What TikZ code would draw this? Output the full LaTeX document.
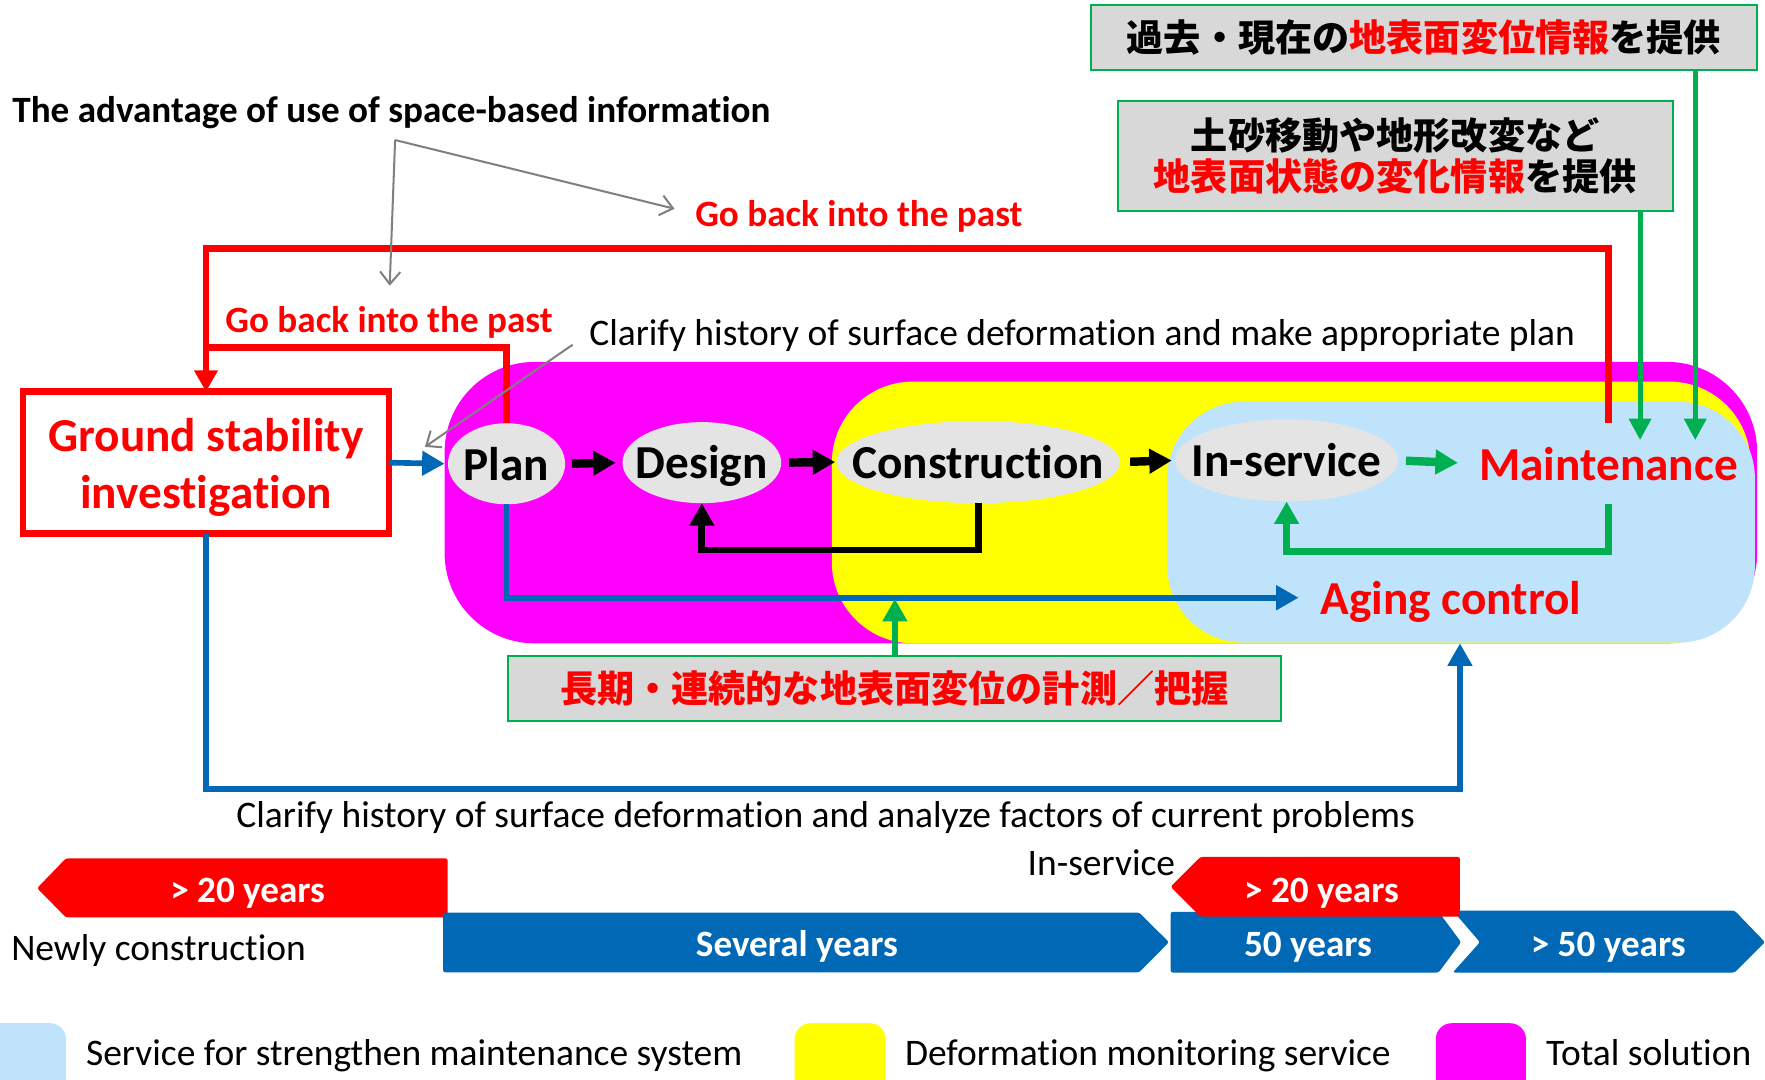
\documentclass[tikz,border=0pt]{standalone}
\usepackage{fontspec}
\setmainfont{Carlito}[Ligatures={NoCommon}]
\newfontfamily\jp{Noto Sans CJK JP}
\usetikzlibrary{arrows.meta,shapes.geometric,calc}
\definecolor{mag}{RGB}{255,0,255}
\definecolor{yel}{RGB}{255,255,0}
\definecolor{lblue}{RGB}{190,227,250}
\definecolor{ellg}{RGB}{228,228,228}
\definecolor{dblue}{RGB}{0,104,180}
\definecolor{grn}{RGB}{0,176,80}
\definecolor{boxg}{RGB}{216,216,216}
\definecolor{gry}{RGB}{128,128,128}
\definecolor{rd}{RGB}{255,0,0}
\begin{document}
\begin{tikzpicture}[x=1pt,y=-1pt,
  every node/.style={inner sep=0pt,outer sep=0pt},
  big/.style={font=\bfseries\fontsize{42}{50}\selectfont, text height=32pt, text depth=3pt},
  ell/.style={ellipse, fill=ellg},
  txt/.style={font=\fontsize{33.3}{38}\selectfont, text height=25pt, text depth=3pt},
  btxt/.style={font=\bfseries\fontsize{33}{38}\selectfont, text height=26pt, text depth=3pt},
  jpbox/.style={rectangle, fill=boxg, draw=grn, line width=1.8pt},
  redl/.style={draw=rd, line width=6pt},
  bll/.style={draw=dblue, line width=5pt},
  tipa/.style={-{Triangle[length=20pt,width=21pt]}},
  tipb/.style={-{Triangle[length=19pt,width=19pt]}},
  blkarr/.style={draw=black, line width=7.5pt, tipa},
  garr/.style={draw=grn, line width=4.5pt, tipb},
  gyl/.style={draw=gry, line width=1.8pt, -{Straight Barb[length=11pt,width=18pt]}},
  tl/.style={rounded corners=2pt}
]
\useasboundingbox (0,0) rectangle (1568,959);
\clip (0,0) rectangle (1568,959);

% regions
\node[fill=mag, rounded corners=80pt, minimum width=1166pt, minimum height=250pt] (magreg) at (978,446.5) {};
\node[fill=yel, rounded corners=72pt, minimum width=816pt, minimum height=232.5pt] (yelreg) at (1147,455.25) {};
\node[fill=lblue, rounded corners=68pt, minimum width=522pt, minimum height=214pt] (bluereg) at (1298,463.9) {};

% process nodes
\node[ell, minimum width=104pt, minimum height=72pt] (plan) at (450,412) {};
\node[big] (planlbl) at (plan) {Plan};
\node[ell, minimum width=141pt, minimum height=72pt] (design) at (623.5,411) {};
\node[big] (designlbl) at (design) {Design};
\node[ell, minimum width=252pt, minimum height=73pt] (constr) at (869,410.5) {};
\node[big] (constrlbl) at (constr) {Construction};
\node[ell, minimum width=198pt, minimum height=73pt] (inserv) at (1143,409) {};
\node[big] (inservlbl) at (inserv) {In-service};
\node[big, text=rd, minimum height=72pt] (maint) at (1429,412) {Maintenance};
\node[big, text=rd] (aging) at (1289,531) {Aging control};

\node[draw=rd, line width=6pt, fill=white, minimum width=325pt, minimum height=126pt] (gsi) at (183,411) {};
\node[align=center, text=rd, font=\bfseries\fontsize{42}{51}\selectfont] (gsilbl) at (183,415) {Ground stability\\investigation};

% japanese boxes
\node[jpbox, minimum width=592pt, minimum height=58pt, font=\jp\bfseries\fontsize{33}{38}\selectfont] (jp1) at (1265,33.6) {過去・現在の\textcolor{rd}{地表面変位情報}を提供};
\node[jpbox, minimum width=493pt, minimum height=98pt, align=center, font=\jp\bfseries\fontsize{33}{36}\selectfont] (jp2) at (1239.5,138.6) {土砂移動や地形改変など\\\textcolor{rd}{地表面状態の変化情報}を提供};
\node[jpbox, minimum width=687pt, minimum height=58pt, text=rd, font=\jp\bfseries\fontsize{33}{38}\selectfont] (jp3) at (794.5,611.9) {長期・連続的な地表面変位の計測／把握};

% texts
\node[btxt, anchor=west] (title) at (11,97.7) {The advantage of use of space-based information};
\node[btxt, text=rd] (gbup) at (763,190) {Go back into the past};
\node[btxt, text=rd] (gblow) at (345.6,284.3) {Go back into the past};
\node[txt, anchor=west] (clar1) at (523.5,296) {Clarify history of surface deformation and make appropriate plan};
\node[txt] (clar2) at (733.5,724) {Clarify history of surface deformation and analyze factors of current problems};

% coordinates
\coordinate (t1) at (1506,391);
\coordinate (t2) at (1457,391);
\coordinate (rtop) at (183,220.5);
\coordinate (rmid) at (183,309);
\coordinate (fb1) at (0,488.6);
\coordinate (fb2) at (0,489.6);
\coordinate (gt) at (795,532);
\coordinate (bb) at (0,701);
\coordinate (bt) at (1297,571.5);
\coordinate (gs) at (351,124.4);
\coordinate (gp) at (377.5,397);

% red connectors
\draw[redl, line join=miter, -{Triangle[length=19pt,width=20pt]}] (maint.north) |- (rtop) -- (gsi.north);
\draw[redl] (plan.north) |- (rmid);

% blue connectors
\draw[bll, tipa, shorten >=3pt] (gsi.east) -- (plan.west);
\draw[bll, tipa, shorten >=19.5pt] (plan.south) |- (aging.west);
\draw[bll, tipa] (gsi.south) |- (bb -| bt) -- (bt);

% black process arrows
\draw[blkarr, shorten <=6pt, shorten >=6pt] (plan.east) -- (design.west);
\draw[blkarr, shorten <=7pt, shorten >=1pt] (design.east) -- (constr.west);
\draw[blkarr, shorten <=9pt, shorten >=3pt] (constr.east) -- (inserv.west);
\draw[draw=grn, line width=7.5pt, tipa, shorten <=7pt, shorten >=19pt] (inserv.east) -- (maint.west);

% feedback
\draw[draw=black, line width=6pt, tipa] (constr.south) -- (constr.south |- fb1) -| (design.south);
\draw[draw=grn, line width=6pt, tipa] (maint.south) -- (maint.south |- fb2) -| (inserv.south);

% green from japanese boxes
\draw[garr] (jp1.south -| t1) -- (t1);
\draw[garr] (jp2.south -| t2) -- (t2);
\draw[draw=grn, line width=5pt, tipa] (jp3.north -| gt) -- (gt);

% gray
\draw[gyl, shorten >=19pt] (gs) -- (gbup.west);
\draw[gyl, shorten >=16pt] (gs) -- (gblow.north);
\draw[gyl, shorten <=18pt] (clar1.west) -- (gp);

% timeline
\fill[rd, tl] (33,789) -- (58.6,762.5) -- (397.7,762.5) -- (397.7,815) -- (58.6,815) -- cycle;
\node[btxt, text=white] (tl1) at (220,790) {> 20 years};
\node[txt, anchor=west] (newc) at (10,842) {Newly construction};
\fill[dblue, tl] (393.6,810.7) -- (1012,810.7) -- (1038.5,837) -- (1012,863.8) -- (393.6,863.8) -- cycle;
\node[btxt, text=white] (sev) at (708,838) {Several years};
\fill[dblue, tl] (1040,810) -- (1278,810) -- (1298,837) -- (1278,864) -- (1040,864) -- cycle;
\node[btxt, text=white] (y50) at (1162,838) {50 years};
\fill[dblue, tl] (1290.6,809) -- (1541,809) -- (1568,837) -- (1541,864) -- (1290.6,864) -- (1314.8,837) -- cycle;
\node[btxt, text=white] (g50) at (1428.7,838) {> 50 years};
\fill[rd, tl] (1040,787.7) -- (1066.5,761.3) -- (1297,761.3) -- (1297,814.3) -- (1066.5,814.3) -- cycle;
\node[btxt, text=white] (tl2) at (1174,790) {> 20 years};
\node[txt, anchor=west] (insv2) at (913,767) {In-service};

% legend
\fill[lblue, rounded corners=14pt] (-20,909) rectangle (58.6,975);
\node[txt, anchor=west] (leg1) at (76.5,936) {Service for strengthen maintenance system};
\fill[yel, rounded corners=14pt] (706,909) rectangle (786.7,975);
\node[txt, anchor=west] (leg2) at (804,936) {Deformation monitoring service};
\fill[mag, rounded corners=14pt] (1275.6,909) rectangle (1355.6,975);
\node[txt, anchor=west] (leg3) at (1373.6,936) {Total solution};
\end{tikzpicture}
\end{document}
